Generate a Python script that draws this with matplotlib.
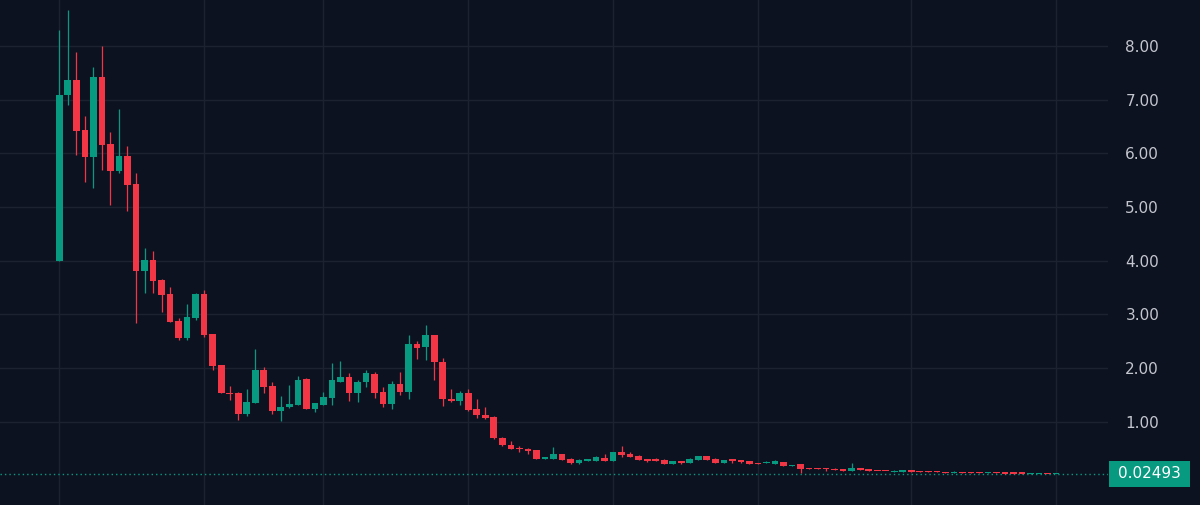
import matplotlib
matplotlib.use("Agg")
import matplotlib.pyplot as plt
from matplotlib.patches import Rectangle
import numpy as np

opens = [4.00, 7.08, 7.37, 6.44, 5.92, 7.42, 6.18, 5.67, 5.94, 5.42,
         3.80, 4.02, 3.63, 3.38, 2.88, 2.55, 2.93, 3.38, 2.63, 2.05,
         1.54, 1.53, 1.15, 1.35, 1.97, 1.66, 1.19, 1.27, 1.32, 1.79,
         1.24, 1.32, 1.44, 1.74, 1.83, 1.53, 1.73, 1.89, 1.55, 1.33,
         1.71, 1.56, 2.45, 2.39, 2.61, 2.12, 1.43, 1.38, 1.53, 1.23,
         1.13, 1.09, 0.70, 0.57, 0.51, 0.49, 0.47, 0.31, 0.31, 0.39,
         0.31, 0.225, 0.26, 0.27, 0.33, 0.27, 0.44, 0.40, 0.37, 0.30,
         0.30, 0.28, 0.21, 0.265, 0.225, 0.28, 0.355, 0.31, 0.24, 0.30,
         0.28, 0.26, 0.23, 0.225, 0.22, 0.245, 0.17, 0.21, 0.125, 0.13,
         0.13, 0.11, 0.12, 0.08, 0.13, 0.11, 0.09, 0.09, 0.065, 0.07,
         0.09, 0.075, 0.075, 0.075, 0.055, 0.04, 0.055, 0.055, 0.055, 0.04,
         0.055, 0.04, 0.04, 0.04, 0.02, 0.025, 0.035, 0.022]
highs = [8.30, 8.66, 7.89, 6.69, 7.60, 8.00, 6.40, 6.82, 6.13, 5.64,
         4.24, 4.17, 3.65, 3.51, 2.93, 3.20, 3.40, 3.46, 2.63, 2.06,
         1.66, 1.55, 1.60, 2.36, 2.02, 1.74, 1.48, 1.68, 1.85, 1.82,
         1.35, 1.56, 2.09, 2.13, 1.90, 1.78, 1.96, 1.93, 1.64, 1.76,
         1.92, 2.61, 2.51, 2.81, 2.61, 2.19, 1.60, 1.57, 1.60, 1.43,
         1.28, 1.10, 0.71, 0.64, 0.55, 0.51, 0.47, 0.335, 0.53, 0.40,
         0.33, 0.30, 0.31, 0.37, 0.40, 0.44, 0.55, 0.44, 0.38, 0.31,
         0.32, 0.30, 0.26, 0.27, 0.32, 0.37, 0.37, 0.33, 0.29, 0.30,
         0.28, 0.26, 0.23, 0.27, 0.28, 0.245, 0.19, 0.21, 0.14, 0.13,
         0.13, 0.13, 0.12, 0.225, 0.14, 0.11, 0.09, 0.09, 0.095, 0.09,
         0.09, 0.09, 0.075, 0.075, 0.055, 0.08, 0.055, 0.055, 0.055, 0.055,
         0.055, 0.04, 0.04, 0.04, 0.045, 0.035, 0.035, 0.03]
lows = [4.00, 6.89, 5.96, 5.46, 5.36, 5.69, 5.03, 5.64, 4.92, 2.84,
        3.40, 3.40, 3.04, 2.86, 2.52, 2.52, 2.89, 2.58, 1.97, 1.53,
        1.40, 1.03, 1.10, 1.35, 1.54, 1.15, 1.01, 1.26, 1.31, 1.23,
        1.18, 1.31, 1.31, 1.73, 1.38, 1.37, 1.65, 1.44, 1.28, 1.24,
        1.49, 1.42, 2.16, 2.14, 1.77, 1.29, 1.37, 1.32, 1.20, 1.06,
        1.05, 0.68, 0.55, 0.50, 0.44, 0.39, 0.30, 0.30, 0.31, 0.29,
        0.22, 0.22, 0.26, 0.27, 0.27, 0.27, 0.35, 0.35, 0.29, 0.25,
        0.26, 0.21, 0.21, 0.22, 0.225, 0.28, 0.28, 0.24, 0.24, 0.24,
        0.235, 0.21, 0.21, 0.225, 0.22, 0.17, 0.17, 0.05, 0.11, 0.11,
        0.09, 0.095, 0.08, 0.08, 0.095, 0.09, 0.075, 0.075, 0.065, 0.07,
        0.07, 0.055, 0.055, 0.055, 0.04, 0.04, 0.04, 0.04, 0.04, 0.04,
        0.04, 0.03, 0.03, 0.03, 0.02, 0.025, 0.025, 0.022]
closes = [7.09, 7.37, 6.42, 5.92, 7.42, 6.15, 5.67, 5.94, 5.40, 3.80,
          4.02, 3.62, 3.36, 2.86, 2.56, 2.95, 3.38, 2.61, 2.04, 1.53,
          1.51, 1.15, 1.37, 1.97, 1.64, 1.19, 1.27, 1.33, 1.78, 1.24,
          1.35, 1.46, 1.77, 1.83, 1.53, 1.74, 1.90, 1.53, 1.33, 1.71,
          1.56, 2.45, 2.37, 2.61, 2.11, 1.42, 1.38, 1.53, 1.21, 1.12,
          1.06, 0.69, 0.56, 0.50, 0.49, 0.46, 0.30, 0.33, 0.39, 0.29,
          0.225, 0.28, 0.30, 0.34, 0.27, 0.44, 0.38, 0.35, 0.29, 0.27,
          0.26, 0.21, 0.26, 0.24, 0.305, 0.355, 0.29, 0.24, 0.29, 0.275,
          0.25, 0.21, 0.21, 0.25, 0.26, 0.17, 0.19, 0.12, 0.11, 0.11,
          0.11, 0.095, 0.08, 0.13, 0.095, 0.09, 0.075, 0.075, 0.085, 0.09,
          0.07, 0.055, 0.055, 0.055, 0.04, 0.06, 0.04, 0.04, 0.04, 0.055,
          0.04, 0.03, 0.03, 0.03, 0.035, 0.035, 0.025, 0.02493]

price_ticks = [1, 2, 3, 4, 5, 6, 7, 8]
tick_labels = ["1.00", "2.00", "3.00", "4.00", "5.00", "6.00", "7.00", "8.00"]
vgrid_idx = [0, 17, 31, 48, 65, 82, 100, 117]
last_price = 0.02493
last_label = "0.02493"

BG = "#0d1220"
GRID = "#1c2230"
UP = "#089981"
DOWN = "#f23645"
TXT = "#c3c6ce"

W, H = 1200, 505
fig = plt.figure(figsize=(W / 100, H / 100), dpi=100, facecolor=BG)
ax_right_px = 1108
ax = fig.add_axes([0, 0, ax_right_px / W, 1])
ax.set_facecolor(BG)

n = len(opens)
x = np.arange(n)
for xi in vgrid_idx:
    ax.axvline(xi, color=GRID, lw=1.0, zorder=0)
for t in price_ticks:
    ax.axhline(t, color=GRID, lw=1.0, zorder=0)

body_w = 0.78
for i in range(n):
    o, h, l, c = opens[i], highs[i], lows[i], closes[i]
    col = UP if c >= o else DOWN
    ax.vlines(x[i], l, h, color=col, lw=0.9, zorder=2)
    bottom = min(o, c)
    height = max(abs(c - o), 0.025)
    ax.add_patch(Rectangle((x[i] - body_w / 2, bottom), body_w, height,
                           facecolor=col, edgecolor="none", zorder=3))

# last price dotted line
ax.axhline(last_price, color=UP, lw=1.0, ls=(0, (1, 2.2)), zorder=1)

# scales: zero at y=475.4px from top, 53.7 px per unit; candle 0 at x=59.3, 8.52 px per candle
ppu = 53.7
y0 = 475.4
ax.set_ylim(-(H - y0) / ppu, y0 / ppu)
xs = 8.52
x0 = 59.3
ax.set_xlim(-x0 / xs, (ax_right_px - x0) / xs)

for s in ax.spines.values():
    s.set_visible(False)
ax.set_xticks([])
ax.yaxis.tick_right()
ax.set_yticks(price_ticks)
ax.set_yticklabels(tick_labels)
ax.tick_params(axis="y", length=0, pad=12.5, labelsize=11, labelcolor=TXT)

# last price label box
bx0, bx1 = 1109, 1190
by_top, by_bot = 460.7, 486.7
fig.patches.append(Rectangle((bx0 / W, 1 - by_bot / H), (bx1 - bx0) / W,
                             (by_bot - by_top) / H, transform=fig.transFigure,
                             facecolor=UP, edgecolor="none", zorder=5))
fig.text((bx0 + bx1) / 2 / W, 1 - (by_top + by_bot) / 2 / H, last_label,
         color="white", fontsize=11, ha="center", va="center", zorder=6)

fig.savefig("out.png", dpi=100, facecolor=BG)
